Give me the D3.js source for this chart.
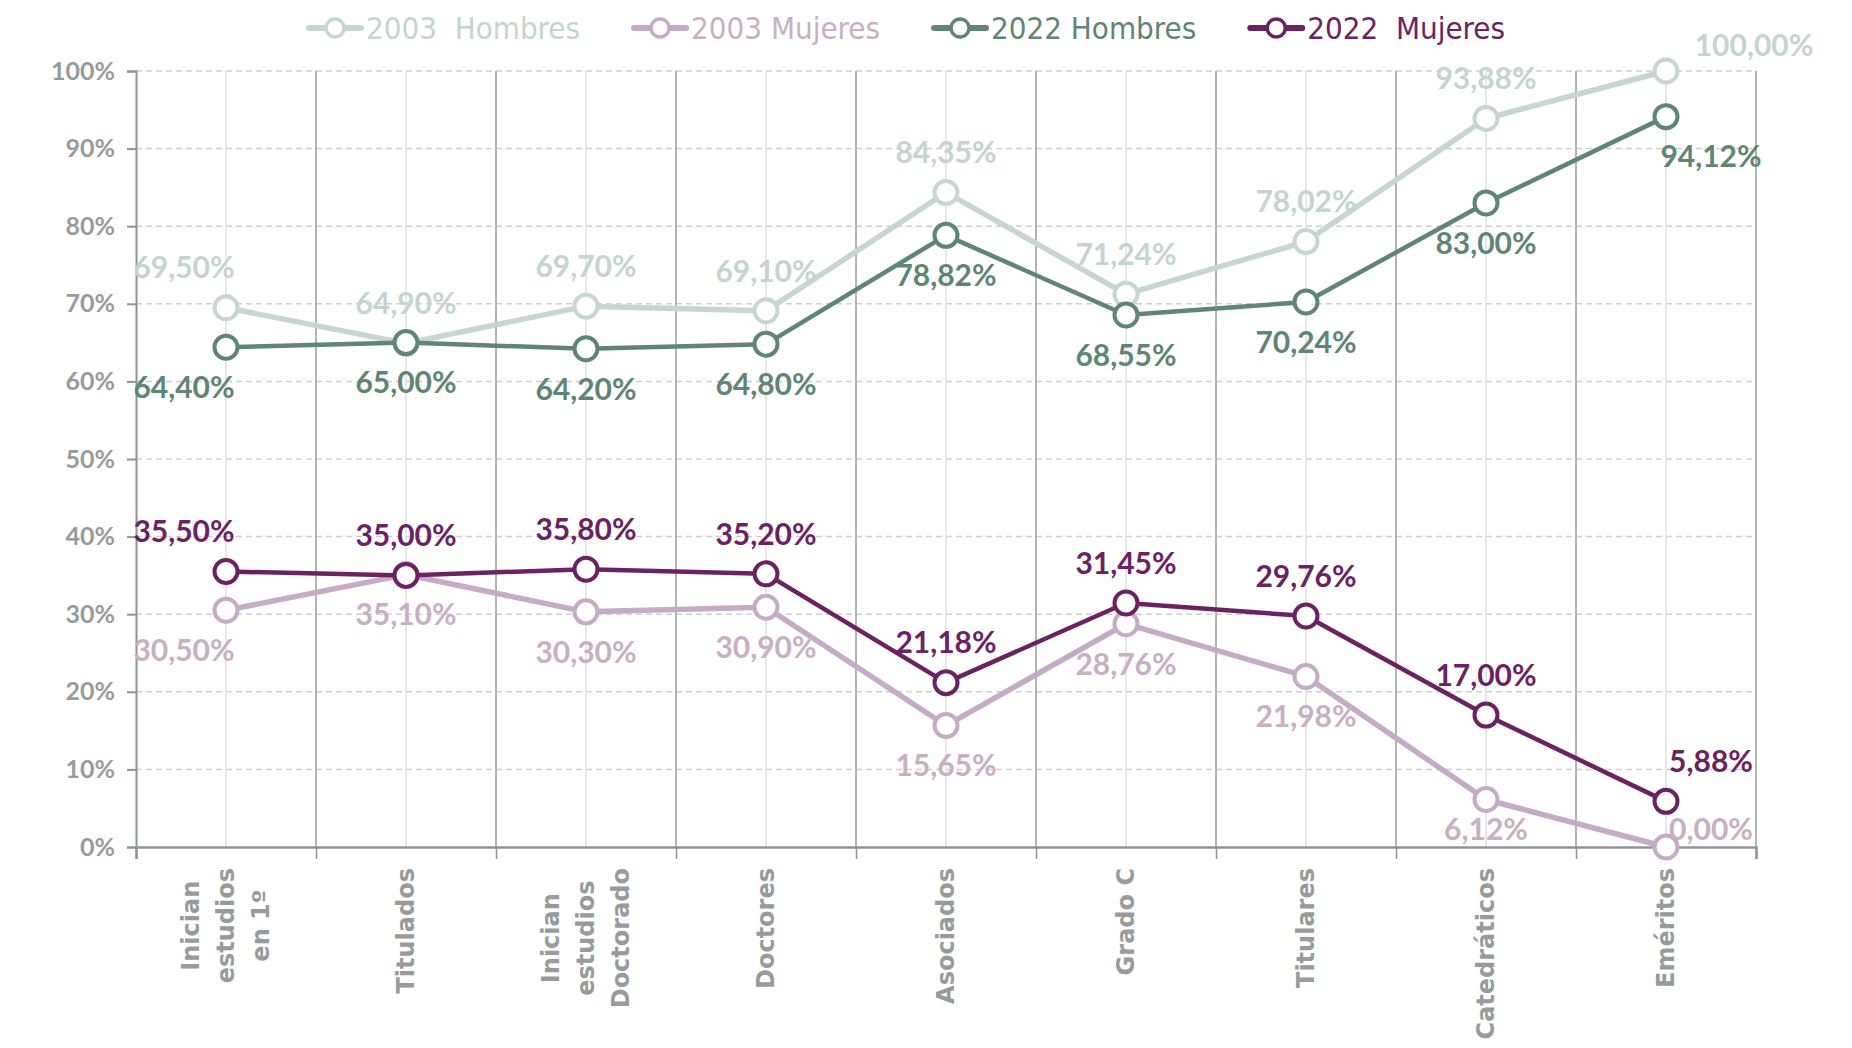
<!DOCTYPE html>
<html>
<head>
<meta charset="utf-8">
<script src="https://cdn.jsdelivr.net/npm/d3@7"></script>
<style>
  body { margin: 0; background: #fff; }
  text { white-space: pre; }
</style>
</head>
<body>
<svg id="chart" width="1852" height="1048"></svg>
<script>
// categories (line breaks = wrapped axis labels)
var categories = ["Inician\nestudios\nen 1º", "Titulados", "Inician\nestudios\nDoctorado", "Doctores",
  "Asociados", "Grado C", "Titulares", "Catedráticos", "Eméritos"];
var seriesNames = ["2003  Hombres", "2003 Mujeres", "2022 Hombres", "2022  Mujeres"];
var hombres2003 = [69.50, 64.90, 69.70, 69.10, 84.35, 71.24, 78.02, 93.88, 100.00];
var mujeres2003 = [30.50, 35.10, 30.30, 30.90, 15.65, 28.76, 21.98, 6.12, 0.00];
var hombres2022 = [64.40, 65.00, 64.20, 64.80, 78.82, 68.55, 70.24, 83.00, 94.12];
var mujeres2022 = [35.50, 35.00, 35.80, 35.20, 21.18, 31.45, 29.76, 17.00, 5.88];
var yTicks = [0, 10, 20, 30, 40, 50, 60, 70, 80, 90, 100];

var width = 1852, height = 1048;
var margin = {top: 71, right: 96, bottom: 201, left: 136};
var svg = d3.select("#chart");

var x = d3.scaleBand().domain(categories).range([margin.left, width - margin.right]);
var y = d3.scaleLinear().domain([0, 100]).range([height - margin.bottom, margin.top]);
var xb = d3.scaleLinear().domain([0, categories.length]).range([margin.left, width - margin.right]);

var axisGray = "#8f9393";
var labelGray = "#979b9b";

// horizontal dashed grid
svg.append("g").selectAll("line").data(yTicks.filter(function (d) { return d > 0; })).enter().append("line")
  .attr("x1", margin.left).attr("x2", width - margin.right)
  .attr("y1", function (d) { return y(d); }).attr("y2", function (d) { return y(d); })
  .attr("stroke", "#cfcfcf").attr("stroke-width", 1.5).attr("stroke-dasharray", "6,4");

// light lines at category centres
svg.append("g").selectAll("line").data(categories).enter().append("line")
  .attr("x1", function (d) { return x(d) + x.bandwidth() / 2; })
  .attr("x2", function (d) { return x(d) + x.bandwidth() / 2; })
  .attr("y1", y(100)).attr("y2", y(0))
  .attr("stroke", "#e0e0e0").attr("stroke-width", 1.5);

// darker lines at band boundaries
svg.append("g").selectAll("line").data(d3.range(1, categories.length + 1)).enter().append("line")
  .attr("x1", function (d) { return xb(d); }).attr("x2", function (d) { return xb(d); })
  .attr("y1", y(100)).attr("y2", y(0))
  .attr("stroke", "#9a9d9d").attr("stroke-width", 1.5);

// y axis
var yAxis = d3.axisLeft(y).tickValues(yTicks).tickSize(9).tickPadding(12)
  .tickFormat(function (d) { return d + "%"; });
var gy = svg.append("g").attr("transform", "translate(" + margin.left + ",0)").call(yAxis);
gy.select(".domain").attr("stroke", axisGray).attr("stroke-width", 2);
gy.selectAll(".tick line").attr("stroke", axisGray).attr("stroke-width", 2);
gy.selectAll(".tick text").attr("fill", labelGray).attr("font-family", "Lato, sans-serif")
  .attr("font-weight", 700).attr("font-size", 25);

// x axis (ticks at band edges)
var xAxis = d3.axisBottom(xb).tickValues(d3.range(0, categories.length + 1)).tickSize(12).tickFormat("");
var gx = svg.append("g").attr("transform", "translate(0," + y(0) + ")").call(xAxis);
gx.select(".domain").attr("stroke", axisGray).attr("stroke-width", 2.5);
gx.selectAll(".tick line").attr("stroke", axisGray).attr("stroke-width", 1.5);

// category labels, rotated, block top-aligned, lines centred
var catG = svg.append("g");
categories.forEach(function (c) {
  var lines = c.split("\n");
  var cx = x(c) + x.bandwidth() / 2;
  var g = catG.append("g");
  var texts = lines.map(function (l) {
    return g.append("text").text(l).attr("fill", labelGray)
      .attr("font-family", "'DejaVu Sans', sans-serif").attr("font-weight", 700).attr("font-size", 24);
  });
  var maxLen = d3.max(texts, function (t) { return t.node().getComputedTextLength(); });
  var lineGap = 35;
  var top = y(0) + 21;
  texts.forEach(function (t, i) {
    var lx = cx + (i - (lines.length - 1) / 2) * lineGap + 8;
    var ly = top + maxLen / 2;
    t.attr("text-anchor", "middle")
      .attr("transform", "translate(" + lx + "," + ly + ") rotate(-90)");
  });
});

// series
var series = [
  {name: seriesNames[0], values: hombres2003, color: "#c7d6d0", text: "#c5d5ce", width: 5.5, pos: -1},
  {name: seriesNames[1], values: mujeres2003, color: "#c6abc6", text: "#c8b0c2", width: 5.5, pos: 1},
  {name: seriesNames[2], values: hombres2022, color: "#5f8576", text: "#5f8576", width: 4.5, pos: 1},
  {name: seriesNames[3], values: mujeres2022, color: "#6c2262", text: "#6c2262", width: 4.5, pos: -1}
];

var line = d3.line()
  .x(function (d, i) { return x(categories[i]) + x.bandwidth() / 2; })
  .y(function (d) { return y(d); });

var sg = svg.append("g").selectAll("g").data(series).enter().append("g");
sg.append("path")
  .attr("d", function (s) { return line(s.values); })
  .attr("fill", "none").attr("stroke", function (s) { return s.color; })
  .attr("stroke-width", function (s) { return s.width; }).attr("stroke-linejoin", "round");
sg.selectAll("circle").data(function (s) { return s.values.map(function (v) { return {v: v, s: s}; }); })
  .enter().append("circle")
  .attr("cx", function (d, i) { return x(categories[i]) + x.bandwidth() / 2; })
  .attr("cy", function (d) { return y(d.v); })
  .attr("r", 11.5).attr("fill", "#fff")
  .attr("stroke", function (d) { return d.s.color; }).attr("stroke-width", 4);

// data labels (kept inside the plot area)
var lg = svg.append("g");
series.forEach(function (s) {
  s.values.forEach(function (v, i) {
    var px = x(categories[i]) + x.bandwidth() / 2;
    var py = y(v);
    var dx = 0, dy = s.pos * 40;
    if (i === 0) dx = -42;
    if (i === categories.length - 1) dx = 45;
    if (v === 0) { dx = 45; dy = -15; }
    if (v === 100) { dx = 88; dy = -26; }
    var ly = Math.min(py + dy, y(0) - 18);
    lg.append("text")
      .attr("x", px + dx).attr("y", ly)
      .attr("dy", "0.36em").attr("text-anchor", "middle")
      .attr("fill", s.text).attr("font-family", "Lato, sans-serif")
      .attr("font-weight", 700).attr("font-size", 30)
      .text(v.toFixed(2).replace(".", ",") + "%");
  });
});

// legend
var legend = svg.append("g").attr("transform", "translate(305,28)");
var lx = 0;
series.forEach(function (s) {
  var item = legend.append("g").attr("transform", "translate(" + lx + ",0)");
  item.append("line").attr("x1", 4).attr("x2", 56).attr("y1", 0).attr("y2", 0)
    .attr("stroke", s.color).attr("stroke-width", 6).attr("stroke-linecap", "round");
  item.append("circle").attr("cx", 30).attr("cy", 0).attr("r", 9)
    .attr("fill", "#fff").attr("stroke", s.color).attr("stroke-width", 3.5);
  var t = item.append("text").attr("x", 61).attr("y", 0).attr("dy", "0.35em")
    .attr("fill", s.text).attr("font-family", "'Liberation Sans Narrow', 'DejaVu Sans Condensed', sans-serif")
    .attr("font-size", 31).text(s.name);
  lx += 61 + t.node().getComputedTextLength() + 50;
});
</script>
</body>
</html>
